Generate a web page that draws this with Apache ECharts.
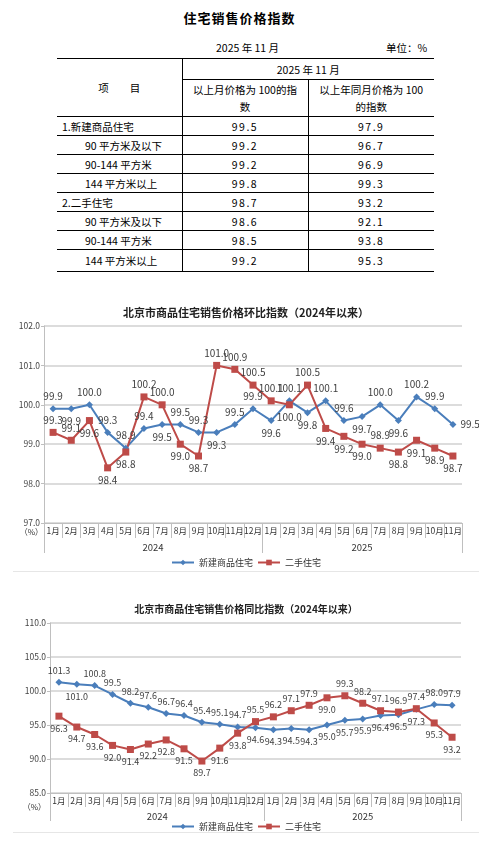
<!DOCTYPE html>
<html>
<head>
<meta charset="utf-8">
<title>住宅销售价格指数</title>
<script src="https://cdn.jsdelivr.net/npm/echarts@6/dist/echarts.min.js"></script>
<style>
  body { margin: 0; background: #fff; font-family: "Noto Sans CJK SC", sans-serif; color: #000; }
  .page { position: relative; width: 479px; height: 845px; overflow: hidden; }
  .title { position: absolute; left: 0; width: 479px; top: 8px; text-align: center; font-size: 13px; font-weight: bold; letter-spacing: 1px; }
  .sub { position: absolute; top: 40px; font-size: 10.5px; }
  table.idx { position: absolute; left: 57px; top: 58px; border-collapse: collapse; font-size: 10.5px; table-layout: fixed; }
  table.idx td { border-top: 1px solid #000; border-bottom: 1px solid #000; padding: 0; text-align: center; line-height: 17px; }
  table.idx td.c1 { border-right: 1px solid #000; }
  table.idx td.c2 { border-right: 1px solid #000; }
  table.idx td.item { text-align: left; }
  table.idx td.num { letter-spacing: 1.5px; }
  .chart { position: absolute; left: 13px; width: 466px; border-bottom: 1px solid #e6e6e6; }
</style>
</head>
<body>
<div class="page">
  <div class="title">住宅销售价格指数</div>
  <div class="sub" style="left:216px;">2025 年 11 月</div>
  <div class="sub" style="left:386px;">单位：%</div>
  <table class="idx" id="idxTable"></table>
  <div id="chartMoM" class="chart" style="top:290px;height:281px;"></div>
  <div id="chartYoY" class="chart" style="top:585px;height:247px;"></div>
</div>
<script>
// 表格数据
const tableItems = ['1.新建商品住宅', '90 平方米及以下', '90-144 平方米', '144 平方米以上',
  '2.二手住宅', '90 平方米及以下', '90-144 平方米', '144 平方米以上'];
const tableMoM = ['99.5', '99.2', '99.2', '99.8', '98.7', '98.6', '98.5', '99.2'];
const tableYoY = ['97.9', '96.7', '96.9', '99.3', '93.2', '92.1', '93.8', '95.3'];

// 图表数据（2024年1月-2025年11月）
const months = ['1月', '2月', '3月', '4月', '5月', '6月', '7月', '8月', '9月', '10月', '11月', '12月',
  '1月', '2月', '3月', '4月', '5月', '6月', '7月', '8月', '9月', '10月', '11月'];
const years = ['2024', '2025'];
const seriesNames = ['新建商品住宅', '二手住宅'];

// 环比
const newMoM = [99.9, 99.9, 100.0, 99.3, 98.9, 99.4, 99.5, 99.5, 99.3, 99.3, 99.5, 99.9,
  99.6, 100.1, 99.8, 100.1, 99.6, 99.7, 100.0, 99.6, 100.2, 99.9, 99.5];
const resaleMoM = [99.3, 99.1, 99.6, 98.4, 98.8, 100.2, 100.0, 99.0, 98.7, 101.0, 100.9, 100.5,
  100.1, 100.0, 100.5, 99.4, 99.2, 99.0, 98.9, 98.8, 99.1, 98.9, 98.7];

// 同比
const newYoY = [101.3, 101.0, 100.8, 99.5, 98.2, 97.6, 96.7, 96.4, 95.4, 95.1, 94.7, 94.6,
  94.3, 94.5, 94.3, 95.0, 95.7, 95.9, 96.4, 96.5, 97.3, 98.0, 97.9];
const resaleYoY = [96.3, 94.7, 93.6, 92.0, 91.4, 92.2, 92.8, 91.5, 89.7, 91.6, 93.8, 95.5,
  96.2, 97.1, 97.9, 99.0, 99.3, 98.2, 97.1, 96.9, 97.4, 95.3, 93.2];

// 数据标签位置（T=上 B=下 R=右）
const posNewMoM = 'TBTTTTBTTBTTBTBTTBTBTTR';
const posResaleMoM = 'TTBBBTTBBTTTTBTBBBTBBBB';
const posNewYoY = 'TBTTTTTTTTTBBBBBBBBBBTT';
const posResaleYoY = 'BBBBBBBBBBBTTTTBTTTTTBB';

// 生成表格
const table = document.getElementById('idxTable');
let html = '<colgroup><col style="width:125px"><col style="width:126px"><col style="width:126px"></colgroup>';
html += '<tr style="height:21px"><td class="c1" rowspan="2">项　　目</td><td colspan="2">2025 年 11 月</td></tr>';
html += '<tr style="height:37px"><td class="c2">以上月价格为 100的指<br>数</td><td>以上年同月价格为 100<br>的指数</td></tr>';
tableItems.forEach((name, i) => {
  const indent = /^\d\./.test(name) ? 5 : 28;
  const h = i === tableItems.length - 1 ? 22 : 19;
  html += '<tr style="height:' + h + 'px"><td class="c1 item" style="padding-left:' + indent + 'px">' + name + '</td>' +
    '<td class="c2 num">' + tableMoM[i] + '</td><td class="num">' + tableYoY[i] + '</td></tr>';
});
table.innerHTML = html;

const posMap = { T: 'top', B: 'bottom', R: 'right' };
const FONT = '"Noto Sans CJK SC", sans-serif';
const AXIS_GRAY = '#bfbfbf';

function buildOption(cfg) {
  const mkData = (vals, pos) => vals.map((v, i) => ({ value: v, label: { position: posMap[pos[i]] } }));
  // 年份分隔线：在 0、12、23 处画长刻度
  const yearBounds = [0, 12, months.length];
  return {
    animation: false,
    textStyle: { fontFamily: FONT },
    title: {
      text: cfg.title,
      left: 'center',
      top: cfg.titleTop,
      textStyle: { fontSize: cfg.titleSize, fontWeight: 'bold', color: '#222', fontFamily: FONT }
    },
    legend: {
      top: cfg.legendTop,
      left: 'center',
      itemWidth: 22,
      itemHeight: 7,
      itemGap: 4,
      textStyle: { fontSize: 9, color: '#333', fontFamily: FONT }
    },
    // 单位标注
    graphic: [{
      type: 'text',
      x: cfg.unitX,
      y: cfg.unitY,
      style: { text: '（%）', fontSize: 8, fill: '#333', align: 'right', verticalAlign: 'middle', fontFamily: FONT }
    }],
    grid: cfg.grid,
    xAxis: [
      {
        type: 'category',
        data: months,
        boundaryGap: true,
        axisLine: { lineStyle: { color: AXIS_GRAY, width: 1 } },
        axisTick: { show: true, interval: 0, length: cfg.tickLen, lineStyle: { color: AXIS_GRAY } },
        axisLabel: { interval: 0, fontSize: 8.5, color: '#333', margin: 4 }
      },
      {
        type: 'category',
        data: months,
        boundaryGap: true,
        position: 'bottom',
        offset: cfg.tickLen,
        axisLine: { show: false },
        axisTick: {
          show: true,
          length: cfg.tickLen,
          lineStyle: { color: AXIS_GRAY },
          interval: (idx) => yearBounds.indexOf(idx) >= 0
        },
        axisLabel: { show: false }
      },
      {
        type: 'value',
        position: 'bottom',
        offset: cfg.tickLen,
        min: 0,
        max: months.length,
        axisLine: { show: false },
        splitLine: { show: false },
        axisTick: { show: false },
        axisLabel: {
          customValues: [6, 17.5],
          fontSize: 9.5, color: '#333', margin: 5,
          formatter: v => (v < 12 ? years[0] : years[1])
        }
      }
    ],
    yAxis: {
      type: 'value',
      min: cfg.yMin,
      max: cfg.yMax,
      interval: cfg.yStep,
      axisLine: { show: true, lineStyle: { color: AXIS_GRAY } },
      axisTick: { show: true, length: 3, lineStyle: { color: AXIS_GRAY } },
      axisLabel: { fontSize: 8.5, color: '#444', margin: 4, formatter: v => v.toFixed(1) },
      splitLine: { lineStyle: { color: '#d0d0d0', width: 1.5 } }
    },
    series: [
      {
        name: seriesNames[0],
        type: 'line',
        data: mkData(cfg.newVals, cfg.newPos),
        symbol: 'diamond',
        symbolSize: 7,
        lineStyle: { color: '#4a7ebb', width: 2 },
        itemStyle: { color: '#4a7ebb' },
        label: { show: true, fontSize: cfg.labelSize, color: '#404040', distance: 4, formatter: p => p.value.toFixed(1) }
      },
      {
        name: seriesNames[1],
        type: 'line',
        data: mkData(cfg.resaleVals, cfg.resalePos),
        symbol: 'rect',
        symbolSize: 7,
        lineStyle: { color: '#be4b48', width: 2 },
        itemStyle: { color: '#be4b48' },
        label: { show: true, fontSize: cfg.labelSize, color: '#404040', distance: 4, formatter: p => p.value.toFixed(1) }
      }
    ]
  };
}

const chartMoM = echarts.init(document.getElementById('chartMoM'));
chartMoM.setOption(buildOption({
  title: '北京市商品住宅销售价格环比指数（2024年以来）',
  titleTop: 12, titleSize: 11,
  legendTop: 263,
  grid: { left: 31, right: 17, top: 36, bottom: 48 },
  tickLen: 15,
  yMin: 97, yMax: 102, yStep: 1,
  unitX: 30, unitY: 242,
  labelSize: 10,
  newVals: newMoM, newPos: posNewMoM,
  resaleVals: resaleMoM, resalePos: posResaleMoM
}));

const chartYoY = echarts.init(document.getElementById('chartYoY'));
chartYoY.setOption(buildOption({
  title: '北京市商品住宅销售价格同比指数（2024年以来）',
  titleTop: 14, titleSize: 10,
  legendTop: 232,
  grid: { left: 37, right: 18, top: 38, bottom: 39 },
  tickLen: 14,
  yMin: 85, yMax: 110, yStep: 5,
  unitX: 33, unitY: 222,
  labelSize: 9,
  newVals: newYoY, newPos: posNewYoY,
  resaleVals: resaleYoY, resalePos: posResaleYoY
}));
</script>
</body>
</html>
